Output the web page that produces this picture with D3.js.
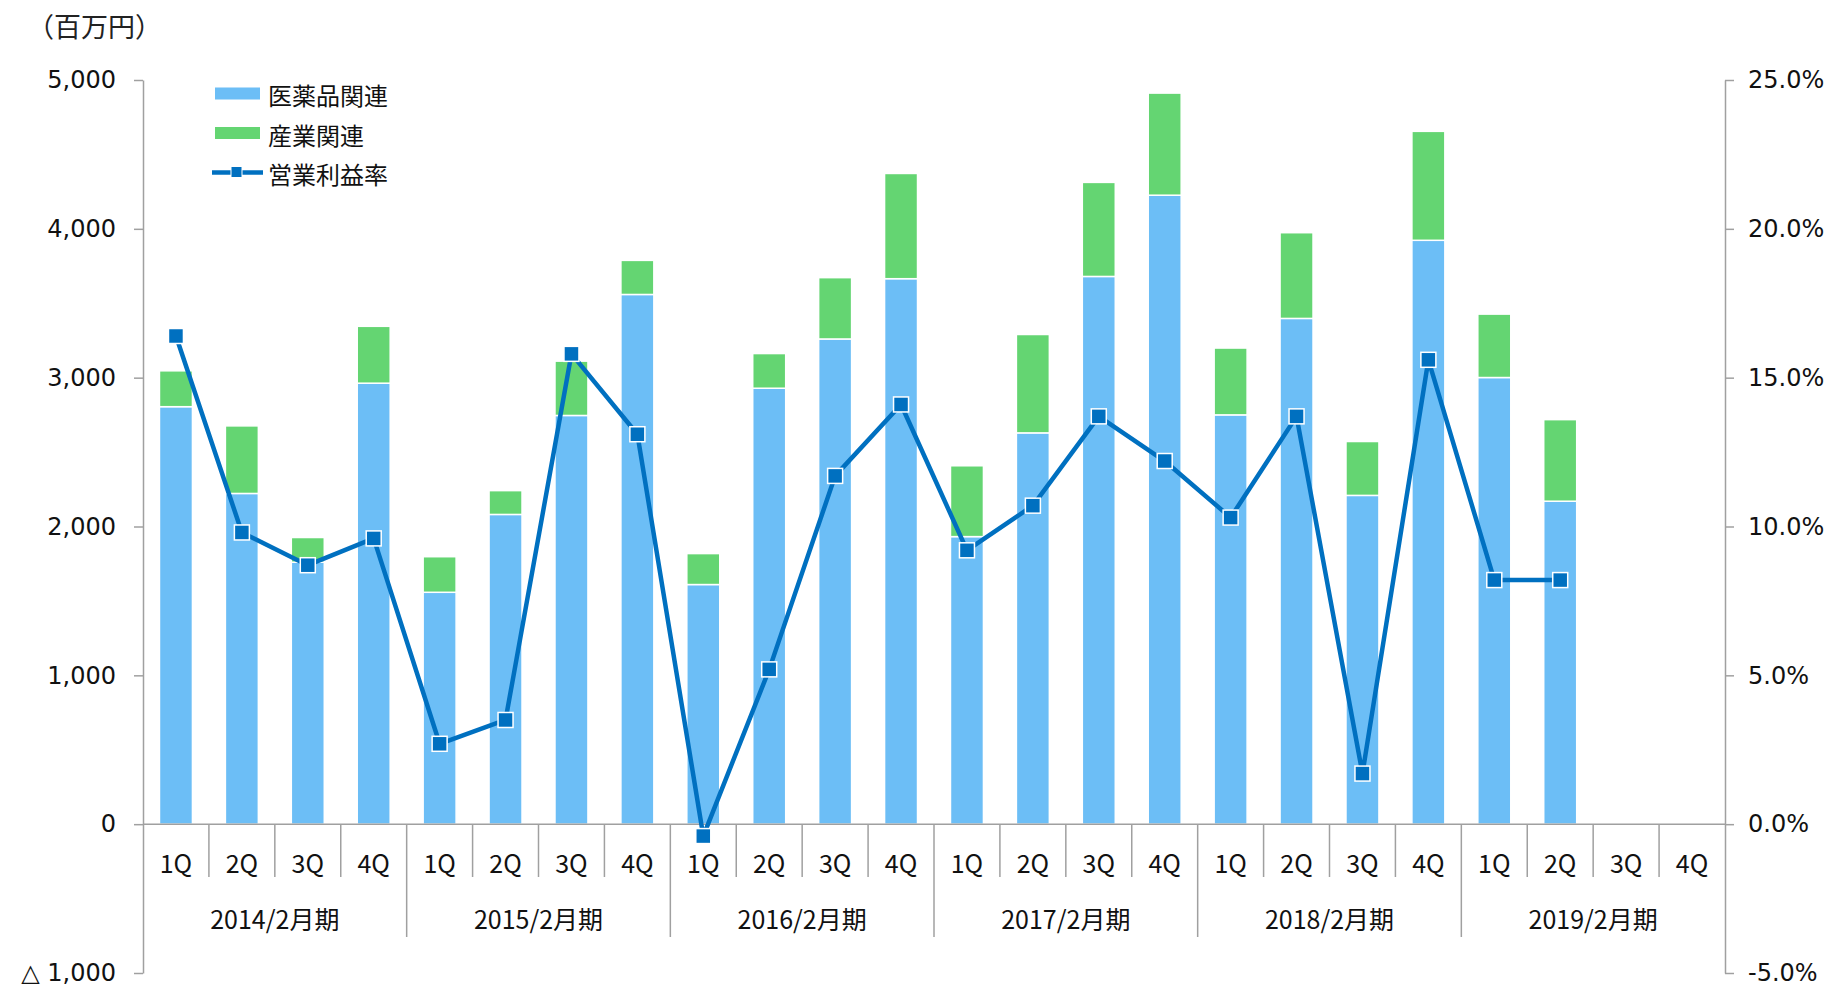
<!DOCTYPE html>
<html>
<head>
<meta charset="utf-8">
<script src="https://cdn.jsdelivr.net/npm/d3@7"></script>
<style>
  body { margin: 0; background: #fff; }
</style>
</head>
<body>
<div id="chart"></div>
<script>

const years = ["2014/2月期", "2015/2月期", "2016/2月期", "2017/2月期", "2018/2月期", "2019/2月期"];
const quarters = ["1Q", "2Q", "3Q", "4Q"];

// 医薬品関連 (百万円)
const pharma = [2805, 2222, 1760, 2963, 1558, 2081, 2746, 3559, 1610, 2929, 3260, 3665,
                1932, 2629, 3680, 4226, 2750, 3398, 2209, 3923, 3001, 2170, null, null];
// 産業関連 (百万円)
const industry = [241, 454, 166, 382, 239, 160, 365, 229, 208, 233, 412, 707,
                  476, 661, 632, 686, 449, 576, 362, 732, 426, 548, null, null];
// 営業利益率 (%)
const margin = [16.4, 9.8, 8.7, 9.6, 2.7, 3.5, 15.8, 13.1, -0.4, 5.2, 11.7, 14.1,
                9.2, 10.7, 13.7, 12.2, 10.3, 13.7, 1.7, 15.6, 8.2, 8.2, null, null];

const leftTicks = [-1000, 0, 1000, 2000, 3000, 4000, 5000];
const rightTicks = [-5, 0, 5, 10, 15, 20, 25];

const width = 1832;
const height = 990;

const blue = "#6cbef6";
const green = "#64d572";
const lineColor = "#0070c0";
const axisColor = "#a0a0a0";
const numFont = "'DejaVu Sans', Verdana, sans-serif";
const jpFont = "'Noto Sans CJK JP', sans-serif";

const data = [];
years.forEach((yr, i) => {
  quarters.forEach((q, j) => {
    const k = i * 4 + j;
    data.push({ key: k, year: yr, q: q, pharma: pharma[k], industry: industry[k], margin: margin[k] });
  });
});

const x = d3.scaleBand()
  .domain(data.map(d => d.key))
  .range([143, 1725])
  .padding(0);

const y = d3.scaleLinear()
  .domain([-1000, 5000])
  .range([973, 80]);

const y2 = d3.scaleLinear()
  .domain([-5, 25])
  .range([973, 80]);

const format = d3.format(",d");

const svg = d3.select("#chart")
  .append("svg")
    .attr("width", width)
    .attr("height", height)
    .attr("viewBox", [0, 0, width, height]);

svg.append("rect")
  .attr("width", width)
  .attr("height", height)
  .attr("fill", "#fff");

// unit label
svg.append("text")
  .attr("x", 27)
  .attr("y", 25)
  .attr("dominant-baseline", "central")
  .attr("font-family", jpFont)
  .attr("font-size", 27)
  .attr("fill", "#222")
  .text("（百万円）");

// bars
const barW = x.bandwidth() * 0.5;
const bars = svg.append("g")
  .selectAll("g")
  .data(data.filter(d => d.pharma != null))
  .join("g");

bars.append("rect")
  .attr("x", d => x(d.key) + (x.bandwidth() - barW) / 2)
  .attr("y", d => y(d.pharma))
  .attr("width", barW)
  .attr("height", d => y(0) - y(d.pharma))
  .attr("fill", blue)
  .attr("stroke", "#fff")
  .attr("stroke-width", 1.5);

bars.append("rect")
  .attr("x", d => x(d.key) + (x.bandwidth() - barW) / 2)
  .attr("y", d => y(d.pharma + d.industry))
  .attr("width", barW)
  .attr("height", d => y(d.pharma) - y(d.pharma + d.industry))
  .attr("fill", green)
  .attr("stroke", "#fff")
  .attr("stroke-width", 1.5);

// left axis
const leftAxis = svg.append("g")
  .attr("transform", `translate(${x.range()[0]},0)`)
  .call(d3.axisLeft(y)
    .tickValues(leftTicks)
    .tickSize(9)
    .tickSizeOuter(0)
    .tickPadding(18)
    .tickFormat(d => d < 0 ? "△ " + format(-d) : format(d)));

// right axis
const rightAxis = svg.append("g")
  .attr("transform", `translate(${x.range()[1]},0)`)
  .call(d3.axisRight(y2)
    .tickValues(rightTicks)
    .tickSize(9)
    .tickSizeOuter(0)
    .tickPadding(14)
    .tickFormat(d => (d < 0 ? "-" : "") + Math.abs(d).toFixed(1) + "%"));

[leftAxis, rightAxis].forEach(g => {
  g.selectAll("path, line")
    .attr("stroke", axisColor)
    .attr("stroke-width", 1.5);
  g.selectAll("text")
    .attr("font-family", numFont)
    .attr("font-size", 24)
    .attr("fill", "#111");
});

// category axis
const cat = svg.append("g");

cat.append("line")
  .attr("x1", x.range()[0])
  .attr("x2", x.range()[1])
  .attr("y1", y(0))
  .attr("y2", y(0))
  .attr("stroke", axisColor)
  .attr("stroke-width", 1.5);

const bounds = d3.range(1, data.length);
cat.selectAll(".sep")
  .data(bounds)
  .join("line")
    .attr("class", "sep")
    .attr("x1", k => x(k))
    .attr("x2", k => x(k))
    .attr("y1", y(0))
    .attr("y2", k => k % 4 === 0 ? 937 : 877)
    .attr("stroke", axisColor)
    .attr("stroke-width", 1.5);

cat.selectAll(".q")
  .data(data)
  .join("text")
    .attr("class", "q")
    .attr("x", d => x(d.key) + x.bandwidth() / 2)
    .attr("y", 862)
    .attr("text-anchor", "middle")
    .attr("dominant-baseline", "central")
    .attr("font-family", jpFont)
    .attr("font-size", 25)
    .attr("fill", "#111")
    .text(d => d.q);

cat.selectAll(".yr")
  .data(years)
  .join("text")
    .attr("class", "yr")
    .attr("x", (d, i) => (x(i * 4) + x(i * 4 + 3) + x.bandwidth()) / 2)
    .attr("y", 918)
    .attr("text-anchor", "middle")
    .attr("dominant-baseline", "central")
    .attr("font-family", jpFont)
    .attr("font-size", 25)
    .attr("fill", "#111")
    .text(d => d);

// margin line
const line = d3.line()
  .defined(d => d.margin != null)
  .x(d => x(d.key) + x.bandwidth() / 2)
  .y(d => y2(d.margin));

svg.append("path")
  .datum(data)
  .attr("fill", "none")
  .attr("stroke", lineColor)
  .attr("stroke-width", 4.5)
  .attr("stroke-linejoin", "round")
  .attr("d", line);

const ms = 15;
svg.append("g")
  .selectAll("rect")
  .data(data.filter(d => d.margin != null))
  .join("rect")
    .attr("x", d => x(d.key) + x.bandwidth() / 2 - ms / 2)
    .attr("y", d => y2(d.margin) - ms / 2)
    .attr("width", ms)
    .attr("height", ms)
    .attr("fill", lineColor)
    .attr("stroke", "#fff")
    .attr("stroke-width", 1.5);

// legend
const legend = svg.append("g")
  .attr("font-family", jpFont)
  .attr("font-size", 24)
  .attr("fill", "#111");

const legendItems = [
  { label: "医薬品関連", color: blue, type: "bar" },
  { label: "産業関連", color: green, type: "bar" },
  { label: "営業利益率", color: lineColor, type: "line" }
];

const row = legend.selectAll("g")
  .data(legendItems)
  .join("g")
    .attr("transform", (d, i) => `translate(0,${93.5 + i * 39.5})`);

row.filter(d => d.type === "bar")
  .append("rect")
    .attr("x", 215)
    .attr("y", -6)
    .attr("width", 45)
    .attr("height", 12)
    .attr("fill", d => d.color);

row.filter(d => d.type === "line")
  .append("line")
    .attr("x1", 212)
    .attr("x2", 263)
    .attr("stroke", d => d.color)
    .attr("stroke-width", 4.5);

row.filter(d => d.type === "line")
  .append("rect")
    .attr("x", 231)
    .attr("y", -6)
    .attr("width", 11)
    .attr("height", 11)
    .attr("fill", d => d.color)
    .attr("stroke", "#fff")
    .attr("stroke-width", 1);

row.append("text")
  .attr("x", 268)
  .attr("y", 1)
  .attr("dominant-baseline", "central")
  .text(d => d.label);

</script>
</body>
</html>
